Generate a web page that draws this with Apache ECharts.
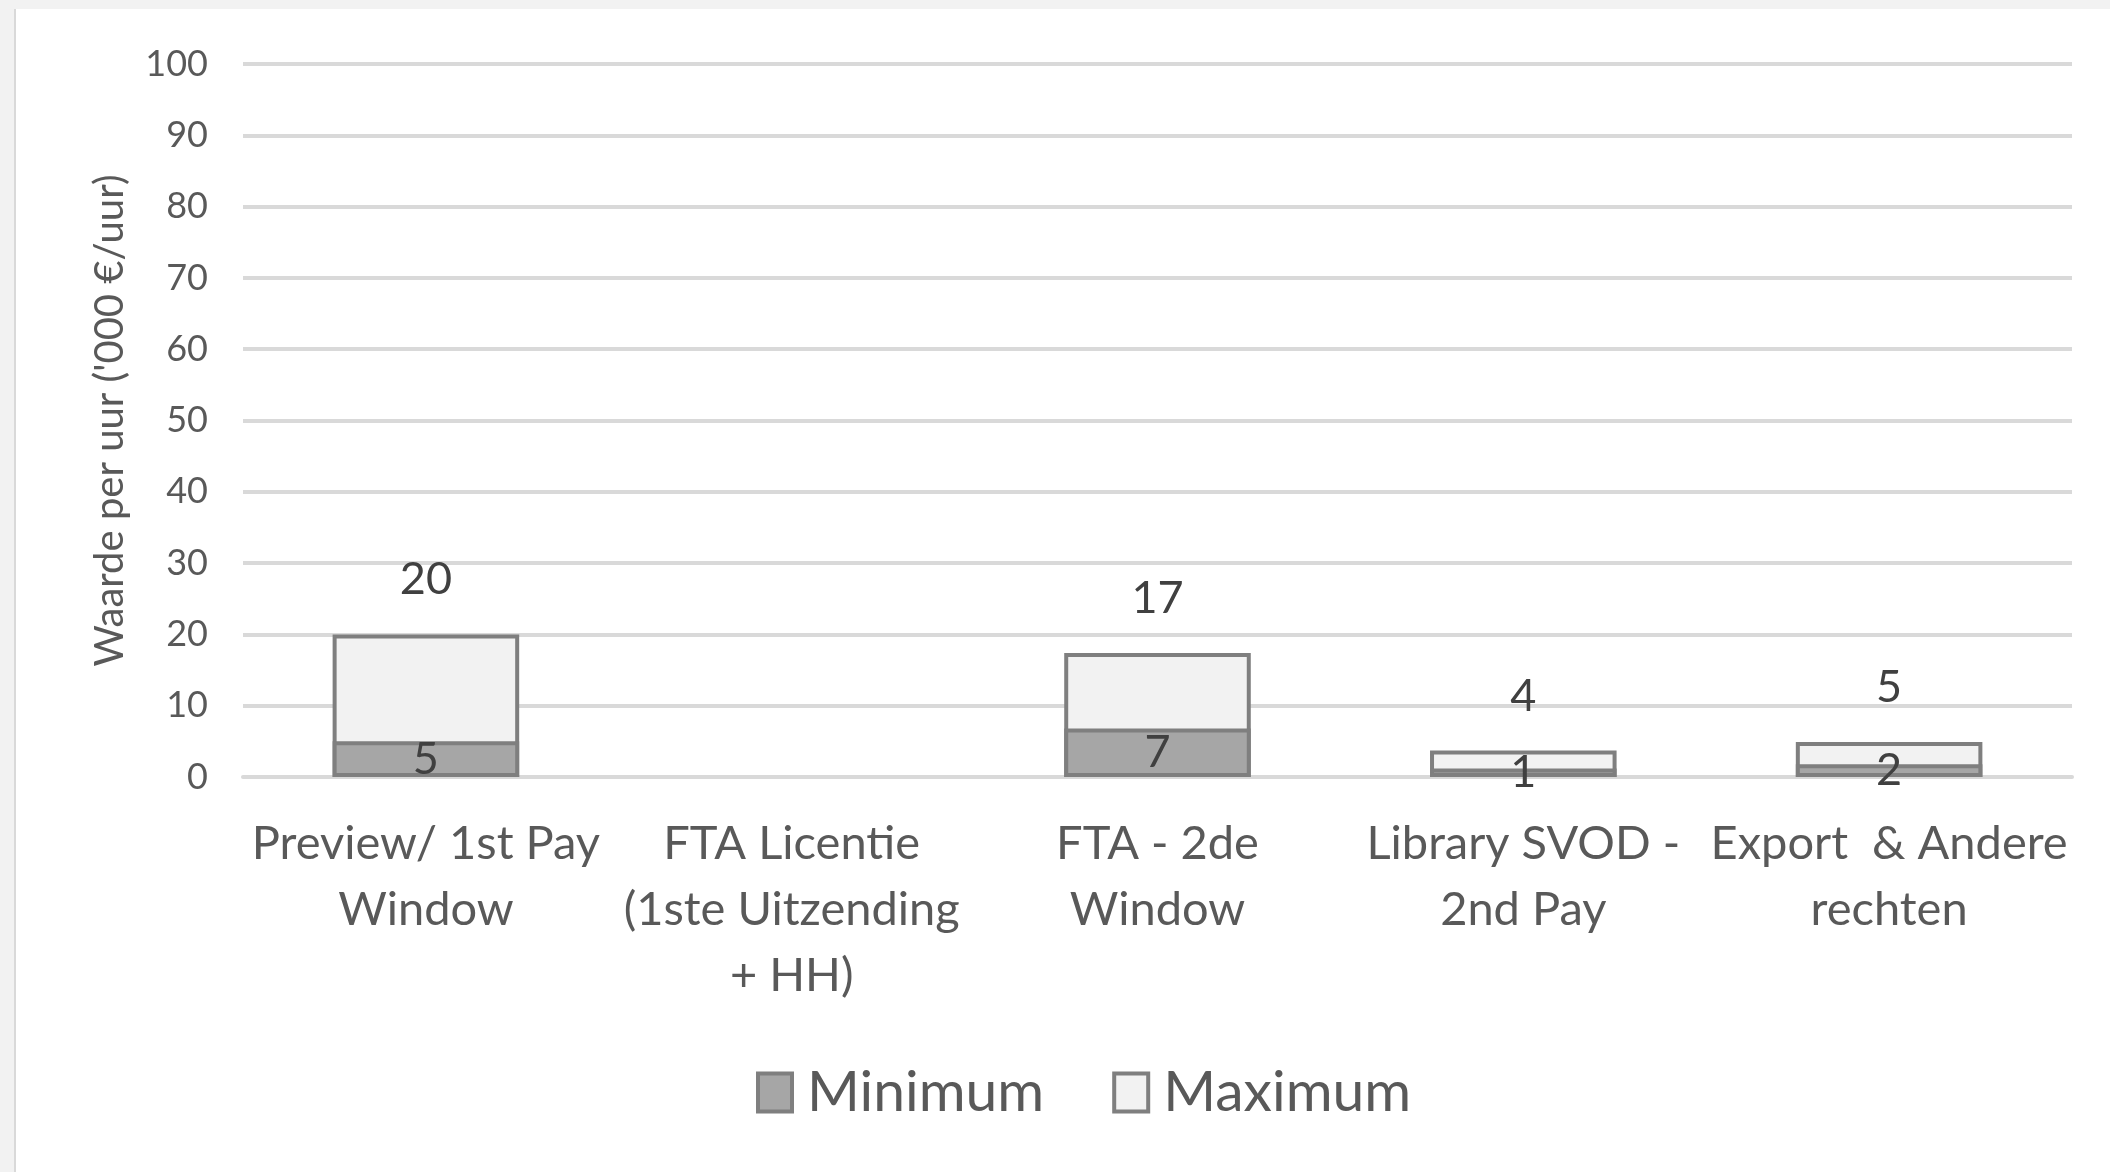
<!DOCTYPE html>
<html>
<head>
    <meta charset="utf-8">
    <style>
        html, body {
            height: 100%;
            margin: 0;
            padding: 0;
            background: #f2f2f2;
        }

        .container {
            position: absolute;
            left: 14px;
            top: 9px;
            right: 0;
            bottom: 0;
            border-left: 2px solid #d9d9d9;
            background: #ffffff;
        }
    </style>
</head>
<body>
<div id="main" class="container"></div>

<script src="https://cdn.jsdelivr.net/npm/echarts@6/dist/echarts.min.js"></script>
<script type="text/javascript">
// categories and values
var categories = [
    'Preview/ 1st Pay\nWindow',
    'FTA Licentie\n(1ste Uitzending\n+ HH)',
    'FTA - 2de\nWindow',
    'Library SVOD -\n2nd Pay',
    'Export  & Andere\nrechten'
];
var minValues = [5, '-', 6.8, 1.2, 1.8];
var maxValues = [20, '-', 17.4, 3.7, 4.9];
var yTicks = [0, 10, 20, 30, 40, 50, 60, 70, 80, 90, 100];

var fontName = 'Lato, "Open Sans", sans-serif';
var textGrey = '#595959';
var labelGrey = '#404040';
var gridGrey = '#d9d9d9';
var borderGrey = '#7f7f7f';

var myChart = echarts.init(document.getElementById('main'));

var option = {
    animation: false,
    textStyle: { fontFamily: fontName },
    grid: {
        left: 227,
        right: 38,
        top: 55,
        bottom: 395
    },
    legend: {
        data: ['Minimum', 'Maximum'],
        icon: 'rect',
        left: 735,
        top: 1050,
        itemWidth: 34,
        itemHeight: 38,
        itemGap: 68,
        selectedMode: false,
        itemStyle: { borderColor: borderGrey, borderWidth: 4 },
        textStyle: {
            color: textGrey,
            fontSize: 57,
            fontFamily: fontName,
            padding: [0, 0, 0, 10]
        }
    },
    xAxis: {
        type: 'category',
        data: categories,
        axisLine: { show: true, lineStyle: { color: gridGrey, width: 4 } },
        axisTick: { show: false },
        axisLabel: {
            interval: 0,
            margin: 34,
            color: textGrey,
            fontSize: 47,
            lineHeight: 66,
            fontFamily: fontName
        }
    },
    yAxis: {
        type: 'value',
        min: yTicks[0],
        max: yTicks[yTicks.length - 1],
        interval: 10,
        name: "Waarde per uur ('000 €/uur)",
        nameLocation: 'middle',
        nameGap: 113,
        nameTextStyle: {
            color: textGrey,
            fontSize: 40,
            fontFamily: fontName
        },
        axisLine: { show: false },
        axisTick: { show: false },
        axisLabel: {
            margin: 35,
            color: textGrey,
            fontSize: 36,
            fontFamily: fontName
        },
        splitLine: { lineStyle: { color: gridGrey, width: 4 } }
    },
    series: [
        {
            name: 'Maximum',
            type: 'bar',
            data: maxValues,
            barWidth: '51%',
            barGap: '-100%',
            itemStyle: {
                color: '#f2f2f2',
                borderColor: borderGrey,
                borderWidth: 4
            },
            label: {
                show: true,
                position: 'top',
                distance: 32,
                color: labelGrey,
                fontSize: 45,
                fontFamily: fontName,
                formatter: function (p) { return Math.round(p.value); }
            }
        },
        {
            name: 'Minimum',
            type: 'bar',
            data: minValues,
            barWidth: '51%',
            barGap: '-100%',
            itemStyle: {
                color: '#a6a6a6',
                borderColor: borderGrey,
                borderWidth: 4
            },
            label: {
                show: true,
                position: 'inside',
                color: labelGrey,
                fontSize: 45,
                fontFamily: fontName,
                formatter: function (p) { return Math.round(p.value); }
            }
        }
    ]
};

myChart.setOption(option);
</script>
</body>
</html>
